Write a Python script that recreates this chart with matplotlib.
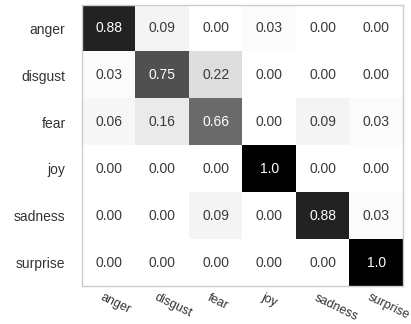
import matplotlib
matplotlib.use("Agg")
import matplotlib.pyplot as plt
import matplotlib.transforms as mtransforms
import numpy as np

plt.rcParams['font.family'] = ['Liberation Sans', 'DejaVu Sans']

emotions = ["anger", "disgust", "fear", "joy", "sadness", "surprise"]

# rows = true label, columns = predicted label (row normalised)
cm_anger = [0.88, 0.09, 0.00, 0.03, 0.00, 0.00]
cm_disgust = [0.03, 0.75, 0.22, 0.00, 0.00, 0.00]
cm_fear = [0.06, 0.16, 0.66, 0.00, 0.09, 0.03]
cm_joy = [0.00, 0.00, 0.00, 1.0, 0.00, 0.00]
cm_sadness = [0.00, 0.00, 0.09, 0.00, 0.88, 0.03]
cm_surprise = [0.00, 0.00, 0.00, 0.00, 0.00, 1.0]


def fmt(v):
    return "1.0" if v == 1.0 else "%.2f" % v


def main():
    cm = np.array([cm_anger, cm_disgust, cm_fear, cm_joy, cm_sadness, cm_surprise])
    n = len(emotions)

    fig = plt.figure(figsize=(4.11, 3.24), dpi=100)
    ax = fig.add_axes([0.2, 0.117, 0.78, 0.868])
    ax.imshow(cm, cmap="Greys", vmin=0, vmax=1, aspect="auto", interpolation="nearest")

    for i in range(n):
        for j in range(n):
            v = cm[i, j]
            color = "white" if v > 0.5 else "#3a3a3a"
            ax.text(j, i, fmt(v), ha="center", va="center", fontsize=10, color=color)

    ax.set_xticks(range(n))
    ax.set_yticks(range(n))
    ax.set_yticklabels(emotions, fontsize=10, color="#333333")
    ax.set_xticklabels(emotions, fontsize=9, color="#333333", rotation=-26,
                       ha="left", va="top", rotation_mode="anchor")
    ax.tick_params(axis="x", length=0, pad=4)
    ax.tick_params(axis="y", length=0, pad=12)

    # nudge the slanted labels left so the last one stays inside the figure
    nudge = mtransforms.ScaledTranslation(-0.05, 0, fig.dpi_scale_trans)
    for lbl in ax.get_xticklabels():
        lbl.set_transform(lbl.get_transform() + nudge)

    for s in ax.spines.values():
        s.set_color("#cccccc")
        s.set_linewidth(1.0)

    fig.savefig("out.png", dpi=100)


if __name__ == "__main__":
    main()
